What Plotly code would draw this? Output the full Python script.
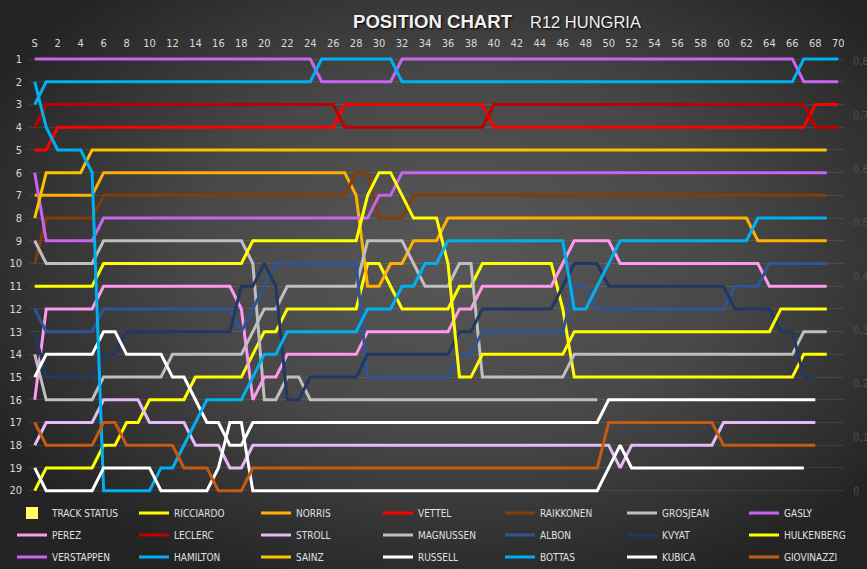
import base64
import plotly.graph_objects as go

# ---------------- data (position per lap, lap 0 = start "S") ----------------
TICK_VALS = [0, 2, 4, 6, 8, 10, 12, 14, 16, 18, 20, 22, 24, 26, 28, 30, 32, 34,
             36, 38, 40, 42, 44, 46, 48, 50, 52, 54, 56, 58, 60, 62, 64, 66, 68, 70]
TICK_TEXT = ["S", "2", "4", "6", "8", "10", "12", "14", "16", "18", "20", "22", "24",
             "26", "28", "30", "32", "34", "36", "38", "40", "42", "44", "46", "48",
             "50", "52", "54", "56", "58", "60", "62", "64", "66", "68", "70"]
POS_TICKS = [1, 2, 3, 4, 5, 6, 7, 8, 9, 10, 11, 12, 13, 14, 15, 16, 17, 18, 19, 20]
STATUS_TICKS = [0, 0.1, 0.2, 0.3, 0.4, 0.5, 0.6, 0.7, 0.8]
STATUS_TEXT = ["0", "0,1", "0,2", "0,3", "0,4", "0,5", "0,6", "0,7", "0,8"]

TRACK_STATUS = [0, 0, 0, 0, 0, 0, 0, 0, 0, 0, 0, 0, 0, 0, 0, 0, 0, 0, 0, 0,
                0, 0, 0, 0, 0, 0, 0, 0, 0, 0, 0, 0, 0, 0, 0, 0, 0, 0, 0, 0,
                0, 0, 0, 0, 0, 0, 0, 0, 0, 0, 0, 0, 0, 0, 0, 0, 0, 0, 0, 0,
                0, 0, 0, 0, 0, 0, 0, 0, 0, 0, 0]

RICCIARDO = [20, 19, 19, 19, 19, 19, 18, 18, 17, 17,
             16, 16, 16, 16, 15, 15, 15, 15, 15, 14,
             13, 13, 12, 12, 12, 12, 12, 12, 12, 10,
             10, 11, 12, 12, 12, 12, 12, 11, 11, 10,
             10, 10, 10, 10, 10, 10, 12, 15, 15, 15,
             15, 15, 15, 15, 15, 15, 15, 15, 15, 15,
             15, 15, 15, 15, 15, 15, 15, 14, 14, 14]
NORRIS = [7, 7, 7, 7, 7, 7, 6, 6, 6, 6,
          6, 6, 6, 6, 6, 6, 6, 6, 6, 6,
          6, 6, 6, 6, 6, 6, 6, 6, 7, 11,
          11, 10, 10, 9, 9, 9, 8, 8, 8, 8,
          8, 8, 8, 8, 8, 8, 8, 8, 8, 8,
          8, 8, 8, 8, 8, 8, 8, 8, 8, 8,
          8, 8, 8, 9, 9, 9, 9, 9, 9, 9]
VETTEL = [5, 5, 4, 4, 4, 4, 4, 4, 4, 4,
          4, 4, 4, 4, 4, 4, 4, 4, 4, 4,
          4, 4, 4, 4, 4, 4, 4, 3, 3, 3,
          3, 3, 3, 3, 3, 3, 3, 3, 3, 3,
          4, 4, 4, 4, 4, 4, 4, 4, 4, 4,
          4, 4, 4, 4, 4, 4, 4, 4, 4, 4,
          4, 4, 4, 4, 4, 4, 4, 4, 3, 3,
          3]
RAIKKONEN = [10, 8, 8, 8, 8, 8, 7, 7, 7, 7,
             7, 7, 7, 7, 7, 7, 7, 7, 7, 7,
             7, 7, 7, 7, 7, 7, 7, 7, 6, 6,
             8, 8, 8, 7, 7, 7, 7, 7, 7, 7,
             7, 7, 7, 7, 7, 7, 7, 7, 7, 7,
             7, 7, 7, 7, 7, 7, 7, 7, 7, 7,
             7, 7, 7, 7, 7, 7, 7, 7, 7, 7]
GROSJEAN = [9, 10, 10, 10, 10, 10, 9, 9, 9, 9,
            9, 9, 9, 9, 9, 9, 9, 9, 9, 10,
            16, 16, 15, 15, 16, 16, 16, 16, 16, 16,
            16, 16, 16, 16, 16, 16, 16, 16, 16, 16,
            16, 16, 16, 16, 16, 16, 16, 16, 16, 16]
GASLY = [6, 9, 9, 9, 9, 9, 8, 8, 8, 8,
         8, 8, 8, 8, 8, 8, 8, 8, 8, 8,
         8, 8, 8, 8, 8, 8, 8, 8, 8, 8,
         7, 7, 6, 6, 6, 6, 6, 6, 6, 6,
         6, 6, 6, 6, 6, 6, 6, 6, 6, 6,
         6, 6, 6, 6, 6, 6, 6, 6, 6, 6,
         6, 6, 6, 6, 6, 6, 6, 6, 6, 6]
PEREZ = [16, 12, 12, 12, 12, 12, 11, 11, 11, 11,
         11, 11, 11, 11, 11, 11, 11, 11, 12, 16,
         15, 15, 14, 14, 14, 14, 14, 14, 14, 13,
         13, 13, 13, 13, 13, 13, 13, 12, 12, 11,
         11, 11, 11, 11, 11, 11, 10, 9, 9, 9,
         9, 10, 10, 10, 10, 10, 10, 10, 10, 10,
         10, 10, 10, 10, 11, 11, 11, 11, 11, 11]
LECLERC = [4, 3, 3, 3, 3, 3, 3, 3, 3, 3,
           3, 3, 3, 3, 3, 3, 3, 3, 3, 3,
           3, 3, 3, 3, 3, 3, 3, 4, 4, 4,
           4, 4, 4, 4, 4, 4, 4, 4, 4, 4,
           3, 3, 3, 3, 3, 3, 3, 3, 3, 3,
           3, 3, 3, 3, 3, 3, 3, 3, 3, 3,
           3, 3, 3, 3, 3, 3, 3, 3, 4, 4,
           4]
STROLL = [18, 17, 17, 17, 17, 17, 16, 16, 16, 16,
          17, 17, 17, 17, 18, 18, 18, 19, 19, 18,
          18, 18, 18, 18, 18, 18, 18, 18, 18, 18,
          18, 18, 18, 18, 18, 18, 18, 18, 18, 18,
          18, 18, 18, 18, 18, 18, 18, 18, 18, 18,
          18, 19, 18, 18, 18, 18, 18, 18, 18, 18,
          17, 17, 17, 17, 17, 17, 17, 17, 17]
MAGNUSSEN = [14, 16, 16, 16, 16, 16, 15, 15, 15, 15,
             15, 15, 14, 14, 14, 14, 14, 14, 14, 13,
             12, 12, 11, 11, 11, 11, 11, 11, 11, 9,
             9, 9, 9, 10, 11, 11, 11, 10, 10, 15,
             15, 15, 15, 15, 15, 15, 15, 14, 14, 14,
             14, 14, 14, 14, 14, 14, 14, 14, 14, 14,
             14, 14, 14, 14, 14, 14, 14, 13, 13, 13]
ALBON = [12, 13, 13, 13, 13, 13, 12, 12, 12, 12,
         12, 12, 12, 12, 12, 12, 12, 12, 13, 12,
         11, 10, 10, 10, 10, 10, 10, 10, 10, 15,
         15, 15, 15, 15, 15, 15, 15, 14, 14, 13,
         13, 13, 13, 13, 13, 13, 13, 11, 11, 12,
         12, 12, 12, 12, 12, 12, 12, 12, 12, 12,
         12, 11, 11, 11, 10, 10, 10, 10, 10, 10]
KVYAT = [13, 15, 15, 15, 15, 15, 14, 14, 13, 13,
         13, 13, 13, 13, 13, 13, 13, 13, 11, 11,
         10, 11, 16, 16, 15, 15, 15, 15, 15, 14,
         14, 14, 14, 14, 14, 14, 14, 13, 13, 12,
         12, 12, 12, 12, 12, 12, 11, 10, 10, 10,
         11, 11, 11, 11, 11, 11, 11, 11, 11, 11,
         11, 12, 12, 12, 12, 13, 13, 15, 15]
HULKENBERG = [11, 11, 11, 11, 11, 11, 10, 10, 10, 10,
              10, 10, 10, 10, 10, 10, 10, 10, 10, 9,
              9, 9, 9, 9, 9, 9, 9, 9, 9, 7,
              6, 6, 7, 8, 8, 8, 10, 15, 15, 14,
              14, 14, 14, 14, 14, 14, 14, 13, 13, 13,
              13, 13, 13, 13, 13, 13, 13, 13, 13, 13,
              13, 13, 13, 13, 13, 12, 12, 12, 12, 12]
VERSTAPPEN = [1, 1, 1, 1, 1, 1, 1, 1, 1, 1,
              1, 1, 1, 1, 1, 1, 1, 1, 1, 1,
              1, 1, 1, 1, 1, 2, 2, 2, 2, 2,
              2, 2, 1, 1, 1, 1, 1, 1, 1, 1,
              1, 1, 1, 1, 1, 1, 1, 1, 1, 1,
              1, 1, 1, 1, 1, 1, 1, 1, 1, 1,
              1, 1, 1, 1, 1, 1, 1, 2, 2, 2,
              2]
HAMILTON = [3, 2, 2, 2, 2, 2, 2, 2, 2, 2,
            2, 2, 2, 2, 2, 2, 2, 2, 2, 2,
            2, 2, 2, 2, 2, 1, 1, 1, 1, 1,
            1, 1, 2, 2, 2, 2, 2, 2, 2, 2,
            2, 2, 2, 2, 2, 2, 2, 2, 2, 2,
            2, 2, 2, 2, 2, 2, 2, 2, 2, 2,
            2, 2, 2, 2, 2, 2, 2, 1, 1, 1,
            1]
SAINZ = [8, 6, 6, 6, 6, 5, 5, 5, 5, 5,
         5, 5, 5, 5, 5, 5, 5, 5, 5, 5,
         5, 5, 5, 5, 5, 5, 5, 5, 5, 5,
         5, 5, 5, 5, 5, 5, 5, 5, 5, 5,
         5, 5, 5, 5, 5, 5, 5, 5, 5, 5,
         5, 5, 5, 5, 5, 5, 5, 5, 5, 5,
         5, 5, 5, 5, 5, 5, 5, 5, 5, 5]
RUSSELL = [15, 14, 14, 14, 14, 14, 13, 13, 14, 14,
           14, 14, 15, 15, 16, 17, 17, 18, 18, 17,
           17, 17, 17, 17, 17, 17, 17, 17, 17, 17,
           17, 17, 17, 17, 17, 17, 17, 17, 17, 17,
           17, 17, 17, 17, 17, 17, 17, 17, 17, 17,
           16, 16, 16, 16, 16, 16, 16, 16, 16, 16,
           16, 16, 16, 16, 16, 16, 16, 16, 16]
BOTTAS = [2, 4, 5, 5, 5, 6, 20, 20, 20, 20,
          20, 19, 19, 18, 17, 16, 16, 16, 16, 15,
          14, 14, 13, 13, 13, 13, 13, 13, 13, 12,
          12, 12, 11, 11, 10, 10, 9, 9, 9, 9,
          9, 9, 9, 9, 9, 9, 9, 12, 12, 11,
          10, 9, 9, 9, 9, 9, 9, 9, 9, 9,
          9, 9, 9, 8, 8, 8, 8, 8, 8, 8]
KUBICA = [19, 20, 20, 20, 20, 20, 19, 19, 19, 19,
          19, 20, 20, 20, 20, 20, 19, 17, 17, 20,
          20, 20, 20, 20, 20, 20, 20, 20, 20, 20,
          20, 20, 20, 20, 20, 20, 20, 20, 20, 20,
          20, 20, 20, 20, 20, 20, 20, 20, 20, 20,
          19, 18, 19, 19, 19, 19, 19, 19, 19, 19,
          19, 19, 19, 19, 19, 19, 19, 19]
GIOVINAZZI = [17, 18, 18, 18, 18, 18, 17, 17, 18, 18,
              18, 18, 18, 19, 19, 19, 20, 20, 20, 19,
              19, 19, 19, 19, 19, 19, 19, 19, 19, 19,
              19, 19, 19, 19, 19, 19, 19, 19, 19, 19,
              19, 19, 19, 19, 19, 19, 19, 19, 19, 19,
              17, 17, 17, 17, 17, 17, 17, 17, 17, 17,
              18, 18, 18, 18, 18, 18, 18, 18, 18]

# series order (as in the legend, row by row, 7 per row)
SERIES = [("RICCIARDO", RICCIARDO, "#ffff00"), ("NORRIS", NORRIS, "#ffb000"),
          ("VETTEL", VETTEL, "#ff0000"), ("RAIKKONEN", RAIKKONEN, "#843c0c"),
          ("GROSJEAN", GROSJEAN, "#bfbfbf"), ("GASLY", GASLY, "#c864f0"),
          ("PEREZ", PEREZ, "#ff99ee"), ("LECLERC", LECLERC, "#c00000"),
          ("STROLL", STROLL, "#e6baf5"), ("MAGNUSSEN", MAGNUSSEN, "#bfbfbf"),
          ("ALBON", ALBON, "#2f5597"), ("KVYAT", KVYAT, "#1f3864"),
          ("HULKENBERG", HULKENBERG, "#ffff00"),
          ("VERSTAPPEN", VERSTAPPEN, "#c864f0"), ("HAMILTON", HAMILTON, "#00b0f0"),
          ("SAINZ", SAINZ, "#ffc000"), ("RUSSELL", RUSSELL, "#ffffff"),
          ("BOTTAS", BOTTAS, "#00b0f0"), ("KUBICA", KUBICA, "#ffffff"),
          ("GIOVINAZZI", GIOVINAZZI, "#c55a11")]

FONT = "Liberation Sans Narrow, Arial Narrow, DejaVu Sans Condensed, Roboto, sans-serif"
TITLE_FONT = "Liberation Sans, Arial, sans-serif"
W, H = 867, 569
ML, MR, MT, MB = 29, 23, 50, 67
PW, PH = W - ML - MR, H - MT - MB
LEG_COL_X = [12, 134, 256, 378, 500, 622, 744]   # legend column origins (px)
LEG_ROW_Y = [513, 535, 557]                      # legend row centres (px)


def legend_key(i):
    return "legend" if i == 0 else "legend%d" % (i + 1)


fig = go.Figure()

fig.add_trace(go.Bar(x=list(range(len(TRACK_STATUS))), y=TRACK_STATUS, name="TRACK STATUS",
                     marker_color="#ffff66", yaxis="y2", legend=legend_key(0),
                     hoverinfo="skip"))

for k, (name, pos, color) in enumerate(SERIES):
    fig.add_trace(go.Scatter(x=list(range(len(pos))), y=pos, name=name, mode="lines",
                             line=dict(color=color, width=3), legend=legend_key(k + 1)))

# background gradient
svg = ('<svg xmlns="http://www.w3.org/2000/svg" width="867" height="569" viewBox="0 0 867 569" '
       'preserveAspectRatio="none"><defs><radialGradient id="g" cx="0.53" cy="0.45" r="0.62">'
       '<stop offset="0" stop-color="#585858"/><stop offset="0.5" stop-color="#484848"/>'
       '<stop offset="1" stop-color="#242424"/></radialGradient></defs>'
       '<rect width="867" height="569" fill="url(#g)"/></svg>')
bg_uri = "data:image/svg+xml;base64," + base64.b64encode(svg.encode()).decode()

legends = {}
for i in range(21):
    r, c = divmod(i, 7)
    legends[legend_key(i)] = dict(
        orientation="h", xref="container", yref="container", xanchor="left",
        yanchor="middle", x=LEG_COL_X[c] / W, y=1 - LEG_ROW_Y[r] / H,
        bgcolor="rgba(0,0,0,0)", itemwidth=30,
        font=dict(family=FONT, size=10, color="#e0e0e0"))

fig.update_layout(
    width=W, height=H,
    margin=dict(l=ML, r=MR, t=MT, b=MB, pad=0, autoexpand=False),
    paper_bgcolor="#333333", plot_bgcolor="rgba(0,0,0,0)",
    template="none",
    barmode="overlay",
    images=[dict(source=bg_uri, xref="paper", yref="paper", x=-ML / PW, y=1 + MT / PH,
                 sizex=W / PW, sizey=H / PH, xanchor="left", yanchor="top",
                 sizing="stretch", layer="below")],
    xaxis=dict(range=[-0.5, 70.5], side="top", tickvals=TICK_VALS, ticktext=TICK_TEXT,
               showgrid=False, zeroline=False, showline=False, ticks="",
               tickfont=dict(family=FONT, size=11, color="#d9d9d9"), automargin=False),
    yaxis=dict(range=[20.5, 0.6], tickvals=POS_TICKS, showgrid=True,
               gridcolor="rgba(255,255,255,0.09)", gridwidth=1, zeroline=False,
               showline=False, ticks="", ticklabelstandoff=6,
               tickfont=dict(family=FONT, size=11, color="#d9d9d9"), automargin=False),
    yaxis2=dict(overlaying="y", side="right", range=[-0.0211, 0.8211],
                tickvals=STATUS_TICKS, ticktext=STATUS_TEXT, showgrid=False,
                zeroline=False, showline=False, ticks="", ticklabelstandoff=8,
                tickfont=dict(family=FONT, size=11, color="#505050"), automargin=False),
    annotations=[
        dict(text="<b>POSITION CHART</b>", xref="paper", yref="paper",
             x=(433 - ML) / PW, y=1 + (MT - 22) / PH, xanchor="center", yanchor="middle",
             showarrow=False,
             font=dict(family=TITLE_FONT, size=18.6, color="#f2f2f2",
                       shadow="1px 1px 2px #000000")),
        dict(text="R12 HUNGRIA", xref="paper", yref="paper",
             x=(585 - ML) / PW, y=1 + (MT - 22) / PH, xanchor="center", yanchor="middle",
             showarrow=False,
             font=dict(family=TITLE_FONT, size=16.5, color="#f2f2f2",
                       shadow="1px 1px 2px #000000")),
    ],
    showlegend=True,
    **legends,
)

fig.write_html("out.html")
